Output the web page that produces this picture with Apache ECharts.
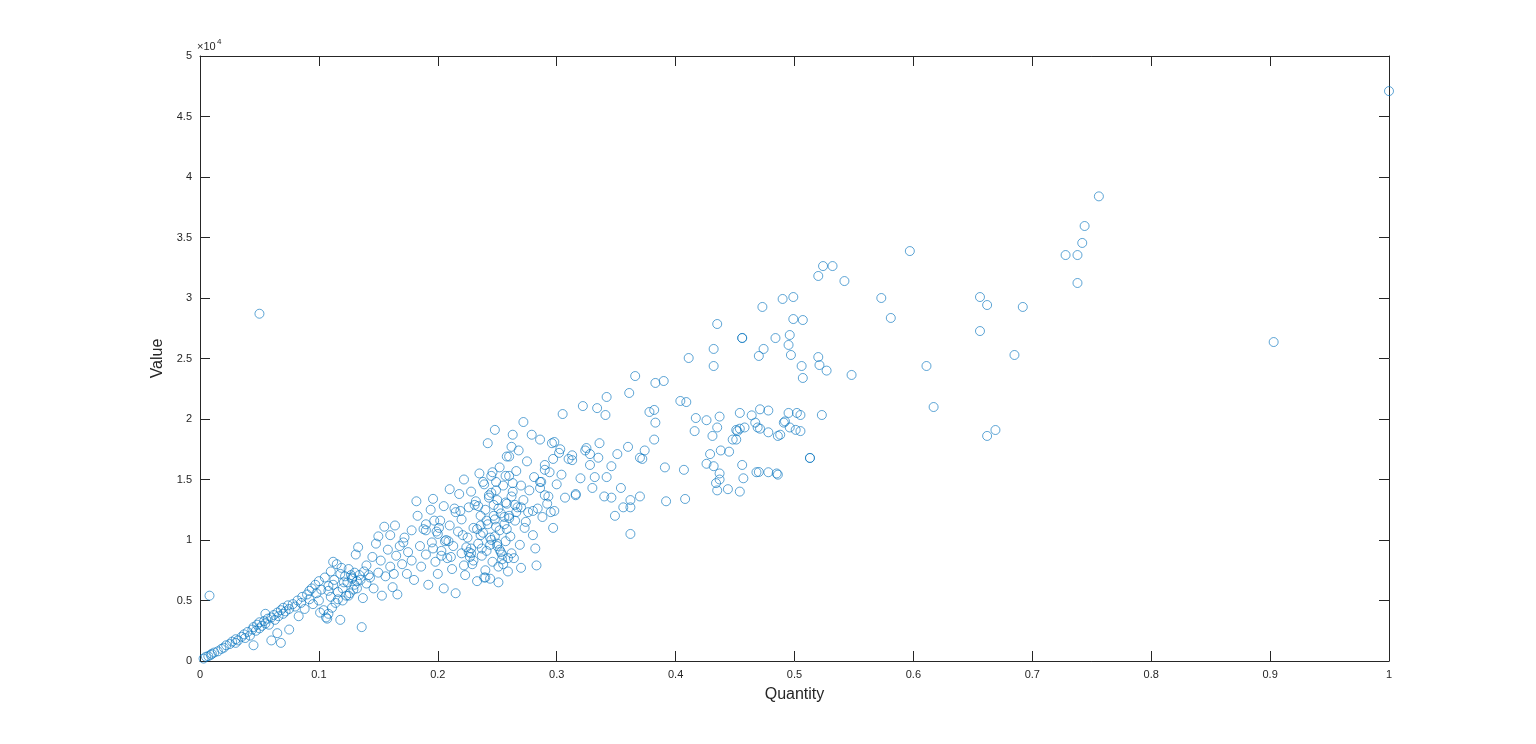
<!DOCTYPE html>
<html><head><meta charset="utf-8">
<script src="https://cdn.jsdelivr.net/npm/echarts@6/dist/echarts.min.js"></script>
<style>html,body{margin:0;background:#fff}#c{width:1536px;height:744px}</style>
</head><body><div id="c"></div>
<script>
const xTicks = [0,0.1,0.2,0.3,0.4,0.5,0.6,0.7,0.8,0.9,1];
const yTicks = [0,5000,10000,15000,20000,25000,30000,35000,40000,45000,50000];
const quantity = [
1.0,0.756,0.744,0.742,0.738,0.728,0.738,0.903,0.692,0.656,0.662,0.656,0.685,0.669,0.662,0.611,0.617,0.597,0.573,0.581,
0.542,0.532,0.524,0.520,0.548,0.499,0.490,0.507,0.499,0.473,0.435,0.456,0.456,0.484,0.474,0.496,0.495,0.497,0.520,0.506,
0.521,0.527,0.507,0.470,0.432,0.432,0.411,0.390,0.383,0.366,0.361,0.341,0.342,0.322,0.334,0.305,0.272,0.378,0.382,0.404,
0.409,0.417,0.426,0.416,0.431,0.437,0.448,0.468,0.454,0.469,0.471,0.464,0.478,0.486,0.502,0.505,0.501,0.523,0.505,0.513,
0.491,0.496,0.492,0.495,0.488,0.458,0.454,0.467,0.451,0.452,0.478,0.471,0.438,0.478,0.470,0.451,0.456,0.513,0.457,0.454,
0.444,0.437,0.437,0.426,0.432,0.429,0.435,0.434,0.435,0.445,0.486,0.485,0.407,0.408,0.391,0.370,0.370,0.362,0.346,0.342,
0.354,0.356,0.349,0.346,0.351,0.362,0.372,0.374,0.382,0.383,0.392,0.360,0.362,0.336,0.328,0.324,0.316,0.313,0.328,0.332,
0.303,0.298,0.297,0.290,0.286,0.293,0.297,0.290,0.280,0.295,0.286,0.263,0.257,0.260,0.248,0.242,0.246,0.249,
0.05,0.008,0.003,0.005,0.007,0.009,0.01,0.012,0.015,0.018,0.02,0.022,0.025,0.027,0.03,0.03,0.032,0.035,0.037,0.038,
0.04,0.042,0.044,0.045,0.047,0.048,0.05,0.05,0.052,0.054,0.055,0.057,0.058,0.06,0.062,0.063,0.065,0.066,0.068,0.07,
0.07,0.072,0.074,0.075,0.078,0.08,0.082,0.085,0.086,0.088,0.09,0.092,0.094,0.095,0.097,0.098,0.1,0.1,0.102,0.104,
0.105,0.106,0.108,0.108,0.11,0.11,0.112,0.113,0.114,0.115,0.116,0.118,0.118,0.12,0.12,0.122,0.124,0.125,0.126,0.128,
0.13,0.13,0.131,0.132,0.133,0.134,0.135,0.136,0.137,0.14,0.14,0.142,0.145,0.146,0.148,0.15,0.15,0.152,0.153,0.155,
0.156,0.158,0.16,0.16,0.162,0.164,0.165,0.166,0.168,0.17,0.172,0.174,0.175,0.178,0.178,0.18,0.182,0.183,0.185,0.186,
0.188,0.19,0.19,0.192,0.194,0.195,0.196,0.198,0.2,0.2,0.202,0.203,0.205,0.205,0.207,0.208,0.21,0.21,0.212,0.213,
0.215,0.215,0.217,0.218,0.22,0.22,0.222,0.223,0.225,0.226,0.228,0.228,0.23,0.23,0.232,0.233,0.234,0.235,0.236,0.237,
0.238,0.239,0.24,0.24,0.241,0.242,0.243,0.244,0.245,0.245,0.246,0.247,0.248,0.249,0.25,0.25,0.251,0.252,0.252,0.253,
0.254,0.255,0.256,0.257,0.258,0.258,0.259,0.26,0.26,0.261,0.262,0.263,0.264,0.265,0.266,0.267,0.268,0.269,0.27,0.27,
0.272,0.273,0.275,0.276,0.277,0.279,0.28,0.281,0.282,0.283,0.284,0.286,0.287,0.288,0.29,0.292,0.294,0.296,0.298,0.3,
0.302,0.304,0.307,0.31,0.313,0.316,0.32,0.325,0.33,0.335,0.34,
0.06,0.065,0.055,0.068,0.045,0.075,0.083,0.092,0.101,0.107,0.125,0.128,0.138,0.143,0.163,0.171,0.19,0.197,0.206,0.211,
0.219,0.224,0.229,0.231,0.236,0.239,0.243,0.247,0.251,0.253,0.256,0.259,0.262,0.265,0.24,0.236,0.25,0.228,0.244,0.255,
0.108,0.112,0.116,0.121,0.127,0.129,0.132,0.123,0.119,0.111,0.196,0.199,0.203,0.201,0.209,0.214,0.221,0.227,0.233,0.237,
0.241,0.244,0.248,0.251,0.254,0.257,0.26,0.263,0.266,0.245,0.249,0.252,0.238,0.234,0.226,0.222,0.258,0.262,0.27,0.274
];
const value = [
47100,38400,35950,34550,33550,33550,31240,26360,29260,30080,29420,27270,25290,19090,18600,24380,20990,33880,30000,28350,
31400,32640,32640,31820,23640,30080,29920,28180,28260,29260,27850,26690,26700,26690,25790,26940,26120,25290,25120,24380,
24460,24000,23390,25210,25790,24380,25040,23140,22980,23550,22150,20330,21820,21070,20900,20410,19750,20580,20750,21490,
21400,20080,19900,19000,18600,20200,18300,15600,20500,19300,19200,20300,18900,18600,20500,20330,19100,20330,19000,16780,
19700,19300,19800,20500,18700,19300,19200,19700,19100,19000,20700,20800,17400,15600,15620,18300,16200,16780,15100,14000,
14200,15500,15000,16300,16100,17100,14100,14700,19300,17300,15400,15500,15800,13390,16000,16800,13600,12700,13500,15200,
14300,12700,12000,16100,17100,13300,16700,17400,18300,19700,13200,17700,10500,18000,17100,17400,13700,16600,16200,15200,
17500,18100,16700,13700,14300,13600,11000,15800,12400,12300,14800,18700,15300,16900,19100,18000,15600,14800,
28700,5400,200,350,400,500,600,700,800,1000,1100,1300,1400,1600,1500,1800,1700,2000,2200,1900,
2400,2100,2600,2800,2500,3000,2700,3200,2900,3300,3100,3500,3000,3600,3800,3400,4000,3700,4200,3900,
4400,4100,4600,4300,4700,4500,5000,4800,5300,4300,5500,5100,6000,4700,6300,5600,6600,5000,5900,4200,
6900,3600,6200,3900,7400,5300,8200,6700,4800,8000,5700,7200,3400,6000,5000,7000,6500,7600,5600,6900,
7300,6300,8800,6000,9400,7100,6700,2800,5200,7900,6400,7100,8600,6000,9700,7300,10300,8300,5400,11100,
7000,9200,7800,10400,6100,11200,8700,5500,9500,8000,10200,7200,9000,8300,10800,6700,13200,12000,9500,7800,
10900,8800,11300,6300,12500,9800,13400,8200,10500,7200,11600,9100,12800,6000,10000,8500,14200,11200,7600,9500,
12300,5600,10700,13800,8900,11700,15000,7100,10200,12700,9300,14000,8300,11000,13200,6600,9700,15500,12000,8700,
10600,14600,7500,12500,9100,11300,13700,6800,15300,10000,8200,12900,11700,14100,9500,13300,7800,16000,10800,12200,
8800,14500,11300,9900,16900,13000,7400,12000,15300,10300,17700,14000,8500,11600,15700,12700,17400,9600,14500,7700,
13300,11000,16500,12300,14100,18700,10400,15200,9300,7900,12600,18300,14800,11900,16200,13000,15600,18000,12400,14600,
17200,15400,13500,16700,17000,13800,15100,17600,14300,16800,13600,
1700,2300,3900,1500,1300,2600,3700,5800,4000,3500,5400,6800,7400,6900,7200,9800,10800,11600,9900,8600,
12400,9400,8000,12900,10400,6900,13500,12000,6500,9000,11900,8500,13600,12900,6900,11200,9700,8900,10200,8000,
5800,6300,5100,6500,7100,5900,6600,5400,7700,4400,9300,10700,8700,11000,9900,12600,10400,8600,10900,9300,
11600,9600,10300,12600,8400,13100,11800,14700,12300,13900,11100,9200,14800,12800,9000,7900,10900,8900,12700,11500
];
const data = quantity.map((q,i)=>[q,value[i]]);
const FF = 'Liberation Sans, Arial';
const lab = {color:'#262626',fontSize:11,fontFamily:FF};
const line = {show:true,onZero:false,lineStyle:{color:'#262626',width:1}};
const tick = {show:true,inside:true,length:10,lineStyle:{color:'#262626'}};
const chart = echarts.init(document.getElementById('c'));
chart.setOption({
  animation:false,
  grid:{left:200,right:147,top:56,bottom:83,containLabel:false,outerBoundsMode:'none'},
  xAxis:[{type:'value',position:'bottom',min:0,max:1,interval:0.1,axisLine:line,axisTick:tick,splitLine:{show:false},
     axisLabel:Object.assign({margin:8,formatter:v=>String(+v.toFixed(1))},lab),
     name:'Quantity',nameLocation:'middle',nameGap:26,nameTextStyle:{color:'#262626',fontSize:16,fontFamily:FF}},
    {type:'value',position:'top',min:0,max:1,interval:0.1,axisLine:line,axisTick:tick,axisLabel:{show:false},splitLine:{show:false}}],
  yAxis:[{type:'value',position:'left',min:0,max:50000,interval:5000,axisLine:line,axisTick:tick,splitLine:{show:false},
     axisLabel:Object.assign({margin:8,formatter:v=>String(v/10000)},lab),
     name:'Value',nameLocation:'middle',nameGap:32,nameTextStyle:{color:'#262626',fontSize:16,fontFamily:FF}},
    {type:'value',position:'right',min:0,max:50000,interval:5000,axisLine:line,axisTick:tick,axisLabel:{show:false},splitLine:{show:false}}],
  graphic:[{type:'text',left:197,top:41,style:{text:'×10',fontSize:11,fill:'#262626',fontFamily:FF}},
           {type:'text',left:217,top:38,style:{text:'4',fontSize:8,fill:'#262626',fontFamily:FF}}],
  series:[{type:'scatter',xAxisIndex:0,yAxisIndex:0,data:data,symbol:'circle',symbolSize:9,
    itemStyle:{color:'rgba(0,0,0,0)',borderColor:'#0072BD',borderWidth:0.8}}]
});
</script></body></html>
